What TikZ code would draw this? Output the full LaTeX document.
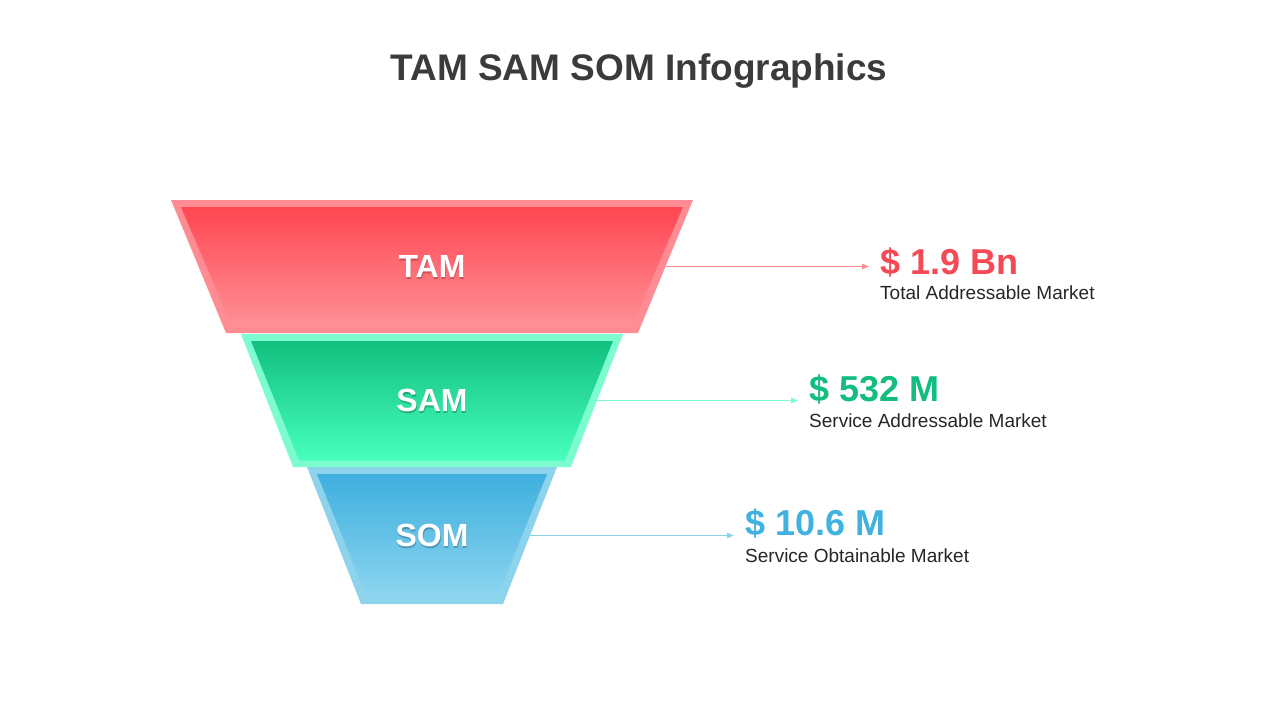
\documentclass[tikz,border=0pt]{standalone}
\usepackage{fontspec}
\setmainfont{Liberation Sans}
\usetikzlibrary{arrows.meta, positioning, calc}

\definecolor{tamedge}{HTML}{FF8C93}
\definecolor{tamtop}{HTML}{FF4752}
\definecolor{tambot}{HTML}{FF9096}
\definecolor{tamtext}{HTML}{F54A56}
\definecolor{samedge}{HTML}{7DFCCF}
\definecolor{samtop}{HTML}{12BF7E}
\definecolor{sambot}{HTML}{47FFBF}
\definecolor{samtext}{HTML}{12BD80}
\definecolor{somedge}{HTML}{8DD3EC}
\definecolor{somtop}{HTML}{3EAFDE}
\definecolor{sombot}{HTML}{8CD5EF}
\definecolor{somtext}{HTML}{3FB2E0}
\definecolor{titlegray}{HTML}{3B3B3B}
\definecolor{subgray}{HTML}{262626}

\tikzset{
  tag/.style={text=white, font=\fontsize{32}{38}\selectfont\bfseries,
    inner sep=0pt},
  tagshade/.style={tag, text=black, text opacity=0.22},
  value/.style={font=\fontsize{36}{42}\selectfont\bfseries, inner sep=0pt},
  subtext/.style={text=subgray, font=\fontsize{19}{23}\selectfont,
    inner sep=0pt},
  pointer/.style={line width=1.4pt,
    -{Triangle[length=7pt,width=5.5pt]}, shorten >=11pt},
}

\begin{document}
\begin{tikzpicture}[x=1pt, y=-1pt]
  \useasboundingbox (0,0) rectangle (1280,720);

  \node[text=titlegray, font=\fontsize{37}{44}\selectfont\bfseries,
    anchor=base] (title) at (639,80) {TAM SAM SOM Infographics};

  % funnel bands: top y / bottom y / half widths, centred on x=432
  \foreach \band/\name/\yt/\yb/\wt/\wb in
    {tam/TAM/200/333/261/206, sam/SAM/334/467/191/139,
     som/SOM/467/604/125/71} {
    \fill[\band edge] (432-\wt,\yt) -- (432+\wt,\yt) -- (432+\wb,\yb)
      -- (432-\wb,\yb) -- cycle;
    \shade[top color=\band top, bottom color=\band bot]
      (442-\wt,\yt+7) -- (422+\wt,\yt+7) -- (426+\wb,\yb-6.5)
      -- (438-\wb,\yb-6.5) -- cycle;
    \coordinate (\band rim) at ($(432+\wt,\yt)!0.5!(432+\wb,\yb)$);
    \node[tagshade] at (432.6,{(\yt+\yb)/2+1.8}) {\name};
    \node[tag] (\band) at (432,{(\yt+\yb)/2}) {\name};
  }

  % figures
  \node[value, text=tamtext, anchor=base west] (tamval) at (880,274)
    {\$ 1.9 Bn};
  \node[subtext, anchor=base west] (tamsub)
    at ([yshift=-25pt]tamval.base west) {Total Addressable Market};

  \node[value, text=samtext, anchor=base west] (samval) at (809,401)
    {\$ 532 M};
  \node[subtext, anchor=base west] (samsub)
    at ([yshift=-26pt]samval.base west) {Service Addressable Market};

  \node[value, text=somtext, anchor=base west] (somval) at (745,535)
    {\$ 10.6 M};
  \node[subtext, anchor=base west] (somsub)
    at ([yshift=-27pt]somval.base west) {Service Obtainable Market};

  % pointers
  \draw[pointer, draw=tamedge, fill=tamedge] (tamrim) -- (tamrim -| tamval.west);
  \draw[pointer, draw=samedge, fill=samedge] (samrim) -- (samrim -| samval.west);
  \draw[pointer, draw=somedge, fill=somedge] (somrim) -- (somrim -| somval.west);
\end{tikzpicture}
\end{document}
